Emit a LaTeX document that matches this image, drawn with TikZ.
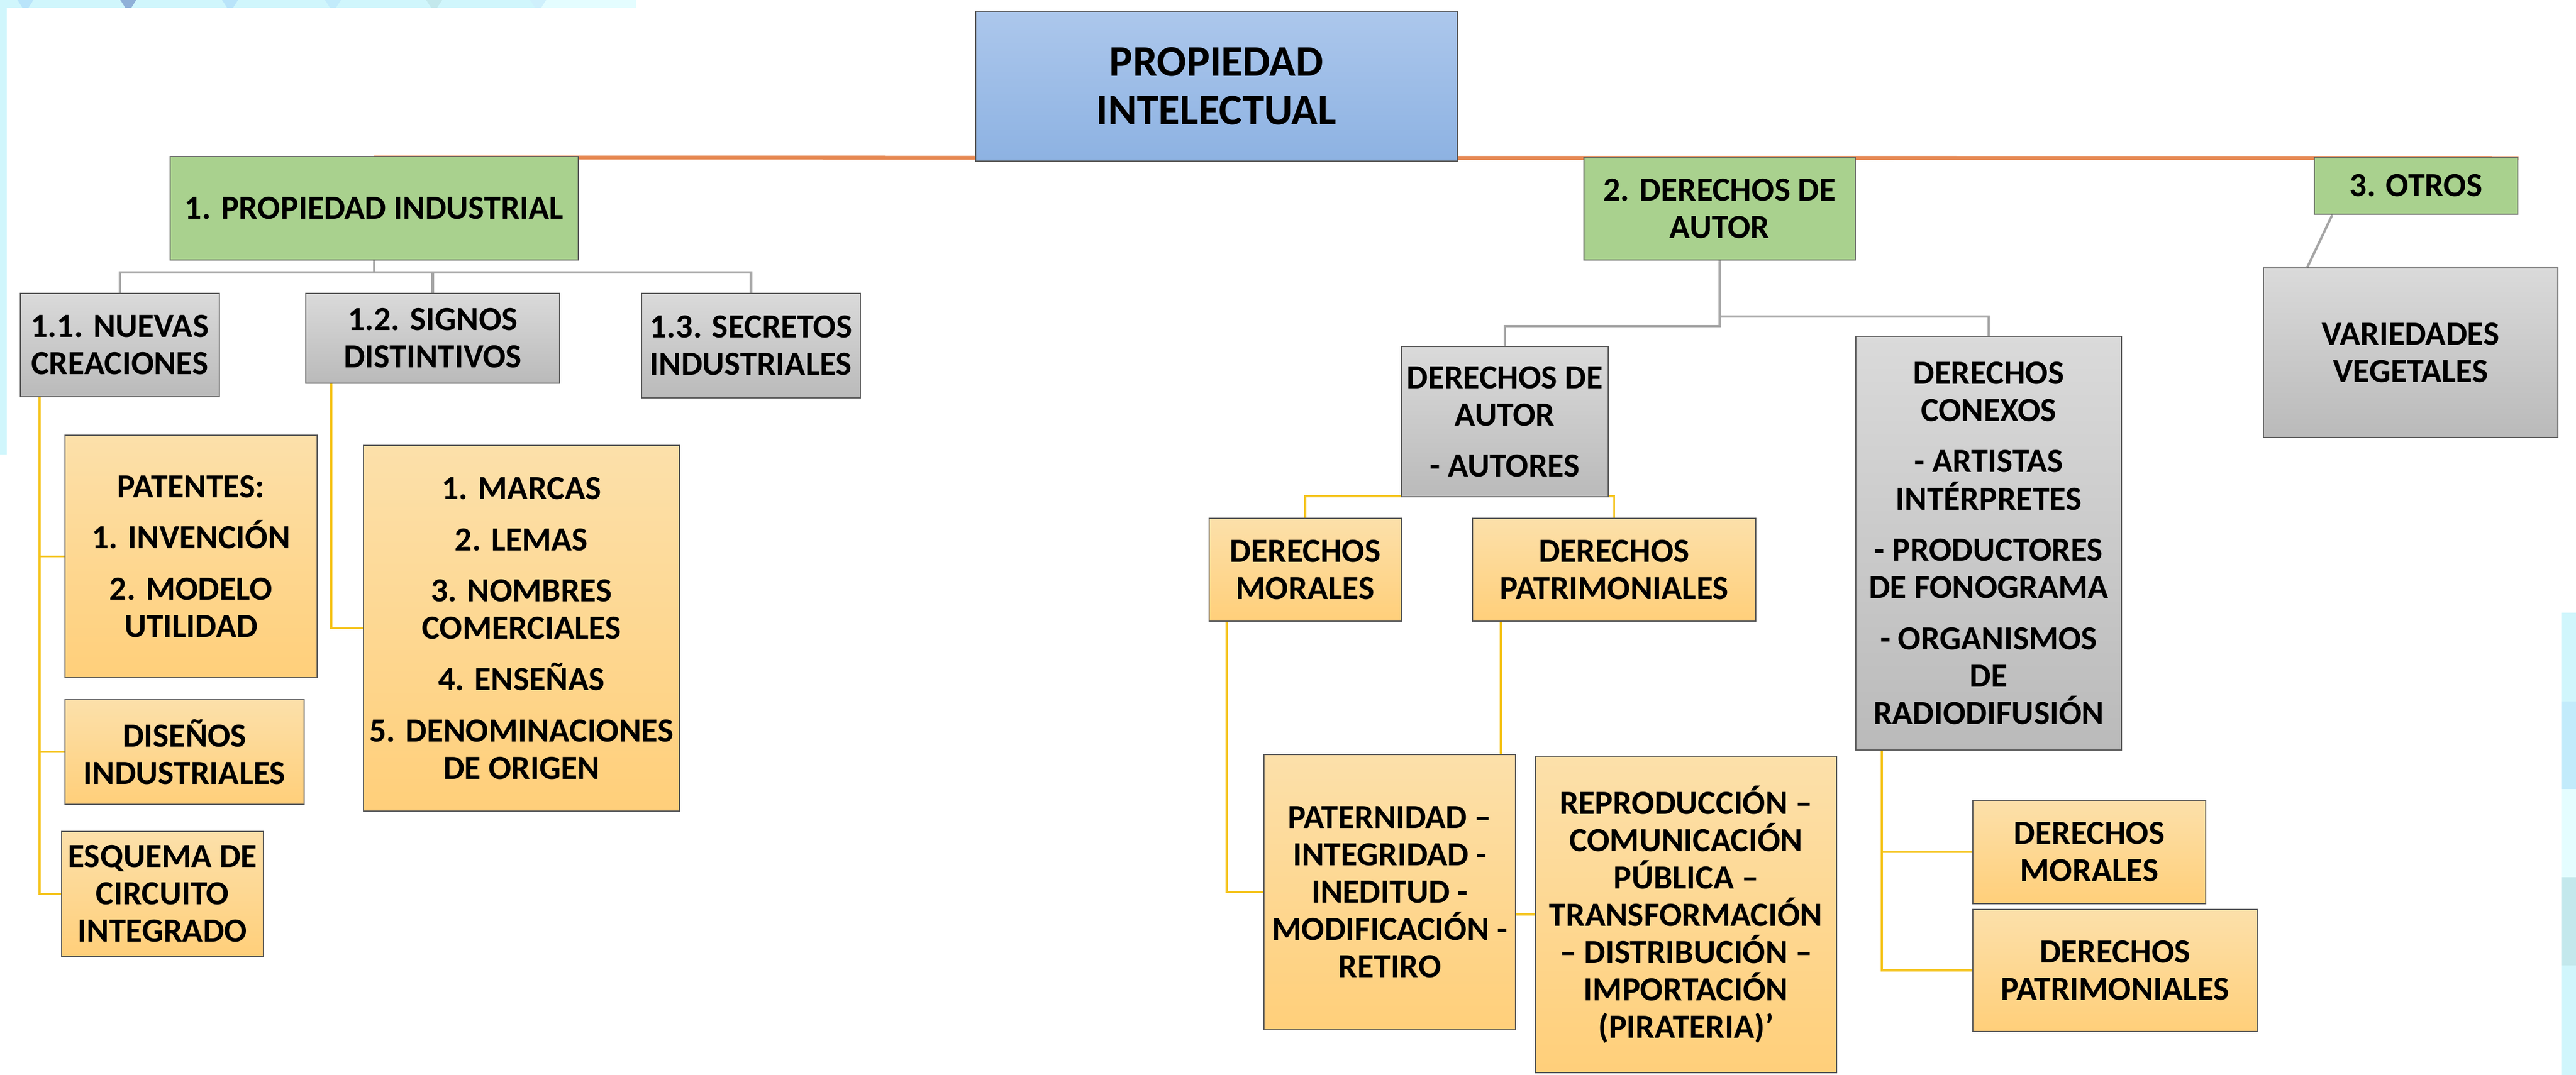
\documentclass[tikz,border=0pt]{standalone}
\usepackage{fontspec}
\setmainfont{Carlito}
\usetikzlibrary{backgrounds}

\definecolor{roottop}{RGB}{172,199,236}
\definecolor{rootbot}{RGB}{141,178,226}
\definecolor{boxgreen}{RGB}{169,209,142}
\definecolor{graytop}{RGB}{218,218,218}
\definecolor{graybot}{RGB}{186,186,186}
\definecolor{orangetop}{RGB}{252,224,170}
\definecolor{orangebot}{RGB}{255,207,122}
\definecolor{lineorange}{RGB}{230,136,82}
\definecolor{linegray}{RGB}{165,165,165}
\definecolor{lineyellow}{RGB}{245,196,30}
\definecolor{bgcyan}{RGB}{208,246,252}
\definecolor{bgpale}{RGB}{228,253,255}
\definecolor{bgblue}{RGB}{185,228,250}
\definecolor{bgdark}{RGB}{143,176,216}
\definecolor{bgteal}{RGB}{195,232,236}

\begin{document}
\begin{tikzpicture}[
  box/.style={draw=black!65, line width=0.7pt, align=center, inner sep=1pt,
    font=\fontsize{17}{18.8}\selectfont\bfseries},
  rootbox/.style={box, top color=roottop, bottom color=rootbot,
    font=\fontsize{22}{24.7}\selectfont\bfseries},
  greenbox/.style={box, fill=boxgreen},
  graybox/.style={box, top color=graytop, bottom color=graybot},
  orangebox/.style={box, top color=orangetop, bottom color=orangebot},
  grayline/.style={draw=linegray, line width=1.2pt},
  orangeline/.style={draw=lineorange, line width=2pt},
  yellowline/.style={draw=lineyellow, line width=1.1pt}
]
  \useasboundingbox (0,0) rectangle (45.57,-19.02);

  % Page and side decoration
  \begin{scope}[on background layer]
    \fill[white] (0,0) rectangle (45.57,-19.02);
    \fill[bgcyan] (0,0) rectangle (11.25,-0.14);
    \fill[bgpale] (9.5,0) rectangle (11.25,-0.14);
    \fill[bgcyan] (0,0) rectangle (0.12,-8.04);
    \foreach \x/\c in {0.45/bgblue, 2.27/bgdark, 4.07/bgblue, 5.89/bgblue!60!bgcyan,
        7.68/bgteal, 9.52/bgblue!50!bgpale}
      \fill[\c] (\x-0.14,0) -- (\x+0.14,0) -- (\x+0.05,-0.14) -- (\x-0.05,-0.14) -- cycle;
    \foreach \ya/\yb/\c in {10.84/12.41/bgcyan, 12.41/13.96/bgblue!60!bgcyan,
        13.96/15.52/bgpale, 15.52/17.08/bgteal, 17.08/19.02/bgcyan}
      \fill[\c] (45.31,-\ya) rectangle (45.57,-\yb);
  \end{scope}

  % Root
  \node[rootbox, minimum width=8.52cm, minimum height=2.65cm] (root) at (21.52,-1.525)
    {PROPIEDAD\\INTELECTUAL};

  % Level 1
  \node[greenbox, minimum width=7.22cm, minimum height=1.83cm] (g1) at (6.62,-3.685)
    {1. PROPIEDAD INDUSTRIAL};
  \node[greenbox, minimum width=4.80cm, minimum height=1.82cm] (g2) at (30.42,-3.69)
    {2. DERECHOS DE\\AUTOR};
  \node[greenbox, minimum width=3.60cm, minimum height=1.01cm] (g3) at (42.74,-3.285)
    {3. OTROS};

  % Propiedad industrial
  \node[graybox, minimum width=3.52cm, minimum height=1.83cm] (b11) at (2.12,-6.105)
    {1.1. NUEVAS\\CREACIONES};
  \node[graybox, minimum width=4.49cm, minimum height=1.59cm] (b12) at (7.655,-5.985)
    {1.2. SIGNOS\\DISTINTIVOS};
  \node[graybox, minimum width=3.87cm, minimum height=1.85cm] (b13) at (13.285,-6.115)
    {1.3. SECRETOS\\INDUSTRIALES};
  \node[orangebox, minimum width=4.46cm, minimum height=4.29cm] (pat) at (3.38,-9.845)
    {PATENTES:\\[7pt]1. INVENCIÓN\\[7pt]2. MODELO\\UTILIDAD};
  \node[orangebox, minimum width=4.23cm, minimum height=1.85cm] (dis) at (3.265,-13.305)
    {DISEÑOS\\INDUSTRIALES};
  \node[orangebox, minimum width=3.57cm, minimum height=2.21cm] (esq) at (2.875,-15.815)
    {ESQUEMA DE\\CIRCUITO\\INTEGRADO};
  \node[orangebox, minimum width=5.59cm, minimum height=6.47cm] (mar) at (9.225,-11.115)
    {1. MARCAS\\[7pt]2. LEMAS\\[7pt]3. NOMBRES\\COMERCIALES\\[7pt]4. ENSEÑAS\\[7pt]5. DENOMINACIONES\\DE ORIGEN};

  % Derechos de autor
  \node[graybox, minimum width=3.66cm, minimum height=2.66cm] (da) at (26.62,-7.46)
    {DERECHOS DE\\AUTOR\\[7pt]- AUTORES};
  \node[graybox, minimum width=4.70cm, minimum height=7.32cm] (dc) at (35.18,-9.61)
    {DERECHOS\\CONEXOS\\[7pt]- ARTISTAS\\INTÉRPRETES\\[7pt]- PRODUCTORES\\DE FONOGRAMA\\[7pt]- ORGANISMOS\\DE\\RADIODIFUSIÓN};
  \node[orangebox, minimum width=3.40cm, minimum height=1.82cm] (dm) at (23.09,-10.08)
    {DERECHOS\\MORALES};
  \node[orangebox, minimum width=5.01cm, minimum height=1.82cm] (dp) at (28.555,-10.08)
    {DERECHOS\\PATRIMONIALES};
  \node[orangebox, minimum width=4.45cm, minimum height=4.87cm] (pa) at (24.585,-15.785)
    {PATERNIDAD –\\INTEGRIDAD -\\INEDITUD -\\MODIFICACIÓN -\\RETIRO};
  \node[orangebox, minimum width=5.33cm, minimum height=5.60cm] (re) at (29.825,-16.18)
    {REPRODUCCIÓN –\\COMUNICACIÓN\\PÚBLICA –\\TRANSFORMACIÓN\\– DISTRIBUCIÓN –\\IMPORTACIÓN\\(PIRATERIA)’};
  \node[orangebox, minimum width=4.12cm, minimum height=1.83cm] (dm2) at (36.96,-15.075)
    {DERECHOS\\MORALES};
  \node[orangebox, minimum width=5.03cm, minimum height=2.16cm] (dp2) at (37.415,-17.17)
    {DERECHOS\\PATRIMONIALES};

  % Otros
  \node[graybox, minimum width=5.21cm, minimum height=3.00cm] (var) at (42.645,-6.24)
    {VARIEDADES\\VEGETALES};

  % Connectors
  \begin{scope}[on background layer]
    \draw[orangeline] ([yshift=-0.03cm]g1.north) -- ([yshift=-0.03cm]g3.north east);
    \foreach \n in {b11,b12,b13}
      \draw[grayline] (g1.south) -- ++(0,-0.21) -| (\n.north);
    \foreach \n in {pat,dis,esq}
      \draw[yellowline] ([xshift=0.35cm]b11.south west) |- (\n.west);
    \draw[yellowline] ([xshift=0.46cm]b12.south west) |- (mar.west);
    \draw[grayline] (g2.south) -- ++(0,-1.16) -| (da.north);
    \draw[grayline] (g2.south) -- ++(0,-0.99) -| (dc.north);
    \draw[yellowline] (dm.north) |- ([yshift=0.02cm]da.south) -| (dp.north);
    \draw[yellowline] ([xshift=0.32cm]dm.south west) |- (pa.west);
    \draw[yellowline] ([xshift=0.51cm]dp.south west) |- (re.west);
    \foreach \n in {dm2,dp2}
      \draw[yellowline] ([xshift=0.47cm]dc.south west) |- (\n.west);
    \draw[grayline] ([xshift=0.33cm]g3.south west) -- ([xshift=0.79cm]var.north west);
  \end{scope}

\end{tikzpicture}
\end{document}
